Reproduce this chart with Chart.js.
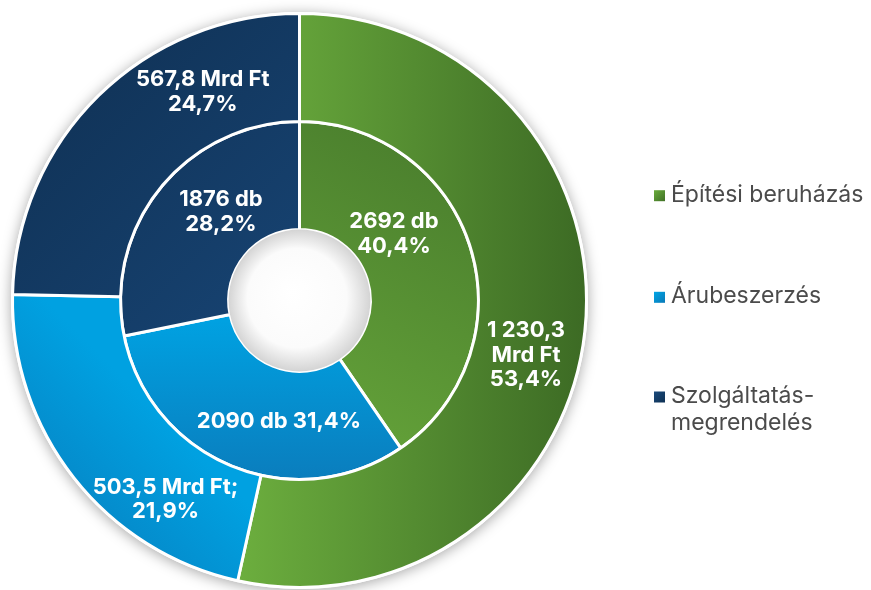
<!DOCTYPE html>
<html lang="hu">
<head>
<meta charset="utf-8">
<title>Közbeszerzések</title>
<script src="https://cdn.jsdelivr.net/npm/chart.js@4.4.1/dist/chart.umd.min.js"></script>
<style>
  html, body { margin: 0; padding: 0; background: #fff; }
  canvas { display: block; }
</style>
</head>
<body>
<canvas id="mycanvas" width="871" height="590"></canvas>
<script>
// categories and values
var categories = ["Építési beruházás", "Árubeszerzés", "Szolgáltatás-megrendelés"];
var legendLines = [["Építési beruházás"], ["Árubeszerzés"], ["Szolgáltatás-", "megrendelés"]];
var valueMrdFt = [1230.3, 503.5, 567.8];   // outer ring
var countDb = [2692, 2090, 1876];          // inner ring
var valueLabels = [["1 230,3", "Mrd Ft", "53,4%"], ["503,5 Mrd Ft;", "21,9%"], ["567,8 Mrd Ft", "24,7%"]];
var countLabels = [["2692 db", "40,4%"], ["2090 db 31,4%"], ["1876 db", "28,2%"]];

// where each label sits inside its arc: [angle fraction, radius fraction]
var labelPlace = [
  [[0.538, 0.50], [0.273, 0.565], [0.72, 0.474]],
  [[0.376, 0.415], [0.39, 0.48], [0.59, 0.44]]
];

var fillCache = {};

function ringGeom(chart) {
  var a = chart.chartArea;
  return {
    cx: (a.left + a.right) / 2,
    cy: (a.top + a.bottom) / 2,
    r: Math.min(a.right - a.left, a.bottom - a.top) / 2
  };
}

function sliceFill(chart, ds, i) {
  var fallback = [["#5f9a36", "#019ddc", "#153e69"], ["#5a9434", "#0096d6", "#153e69"]][ds][i];
  if (!chart.chartArea) return fallback;
  var key = ds + "-" + i;
  if (fillCache[key]) return fillCache[key];
  var g = ringGeom(chart), c = chart.ctx, gr;
  var cx = g.cx, cy = g.cy, R = g.r;
  if (ds === 0 && i === 0) {
    gr = c.createLinearGradient(cx - 60, 0, cx + R, 0);
    gr.addColorStop(0, "#6cae3e");
    gr.addColorStop(1, "#3c6a24");
  } else if (ds === 1 && i === 0) {
    gr = c.createLinearGradient(cx - 20, cy + 170, cx + 160, cy - 150);
    gr.addColorStop(0, "#68a83b");
    gr.addColorStop(1, "#4a7e2d");
  } else if (ds === 0 && i === 1) {
    gr = c.createLinearGradient(cx - 127, cy + 127, cx - 247, cy + 247);
    gr.addColorStop(0, "#00a1e1");
    gr.addColorStop(1, "#0780c0");
  } else if (ds === 1 && i === 1) {
    gr = c.createLinearGradient(cx, cy + 20, cx, cy + 180);
    gr.addColorStop(0, "#00a1e1");
    gr.addColorStop(1, "#0a7dbd");
  } else {
    gr = c.createLinearGradient(cx - 200, cy - 200, cx, cy);
    gr.addColorStop(0, "#11355b");
    gr.addColorStop(1, "#174372");
  }
  fillCache[key] = gr;
  return gr;
}

var ringDecor = {
  id: "ringDecor",
  beforeDatasetsDraw: function(chart) {
    var arc = chart.getDatasetMeta(0).data[0];
    var c = chart.ctx;
    c.save();
    c.shadowColor = "rgba(0,0,0,0.35)";
    c.shadowBlur = 14;
    c.shadowOffsetY = 2;
    c.fillStyle = "#fff";
    c.beginPath();
    c.arc(arc.x, arc.y, arc.outerRadius + 1.5, 0, Math.PI * 2);
    c.fill();
    c.restore();
  },
  afterDatasetsDraw: function(chart) {
    var c = chart.ctx;
    // hole in the middle
    var inner = chart.getDatasetMeta(1).data[0];
    var hr = inner.innerRadius;
    var hg = c.createRadialGradient(inner.x - 8, inner.y - 8, 0, inner.x, inner.y, hr);
    hg.addColorStop(0, "#ffffff");
    hg.addColorStop(0.7, "#fbfbfb");
    hg.addColorStop(1, "#d4d4d4");
    c.save();
    c.fillStyle = hg;
    c.beginPath();
    c.arc(inner.x, inner.y, hr, 0, Math.PI * 2);
    c.fill();

    // slice labels
    c.fillStyle = "#ffffff";
    c.font = "700 22px Inter, 'Noto Sans', sans-serif";
    c.textAlign = "center";
    c.textBaseline = "middle";
    var lineH = 24.5;
    [valueLabels, countLabels].forEach(function(texts, ds) {
      chart.getDatasetMeta(ds).data.forEach(function(el, i) {
        var p = labelPlace[ds][i];
        var ang = el.startAngle + p[0] * (el.endAngle - el.startAngle);
        var rad = el.innerRadius + p[1] * (el.outerRadius - el.innerRadius);
        var x = el.x + Math.cos(ang) * rad;
        var y = el.y + Math.sin(ang) * rad;
        var lines = texts[i];
        var y0 = y - (lines.length - 1) * lineH / 2;
        lines.forEach(function(t, k) {
          c.fillText(t, x, y0 + k * lineH);
        });
      });
    });

    // legend
    var baselines = [201.7, 303.3, 403];
    c.textAlign = "left";
    c.textBaseline = "alphabetic";
    c.font = "400 23px Inter, 'Noto Sans', sans-serif";
    categories.forEach(function(cat, i) {
      var by = baselines[i];
      var sg = c.createLinearGradient(654, by - 11.5, 665, by);
      var cols = [["#6aac3c", "#3f6f26"], ["#00a6e6", "#0a78b6"], ["#1a4a7c", "#0f3052"]][i];
      sg.addColorStop(0, cols[0]);
      sg.addColorStop(1, cols[1]);
      c.fillStyle = sg;
      c.fillRect(654, by - 11.5, 11, 11);
      c.fillStyle = "#4b4b4b";
      legendLines[i].forEach(function(t, k) {
        c.fillText(t, 671, by + k * 27);
      });
    });
    c.restore();
  }
};

var ctx = document.getElementById("mycanvas");

var chart = new Chart(ctx, {
  type: "doughnut",
  data: {
    labels: categories,
    datasets: [
      {
        label: "Mrd Ft",
        data: valueMrdFt,
        backgroundColor: function(c) { return sliceFill(c.chart, 0, c.dataIndex); },
        borderColor: "#ffffff",
        borderWidth: 3
      },
      {
        label: "db",
        data: countDb,
        backgroundColor: function(c) { return sliceFill(c.chart, 1, c.dataIndex); },
        borderColor: "#ffffff",
        borderWidth: 3
      }
    ]
  },
  options: {
    responsive: false,
    animation: false,
    devicePixelRatio: 1,
    cutout: "24.7%",
    layout: { padding: { left: 11, top: 12, right: 283, bottom: 1 } },
    plugins: {
      legend: { display: false },
      tooltip: { enabled: false }
    },
    events: []
  },
  plugins: [ringDecor]
});
</script>
</body>
</html>
